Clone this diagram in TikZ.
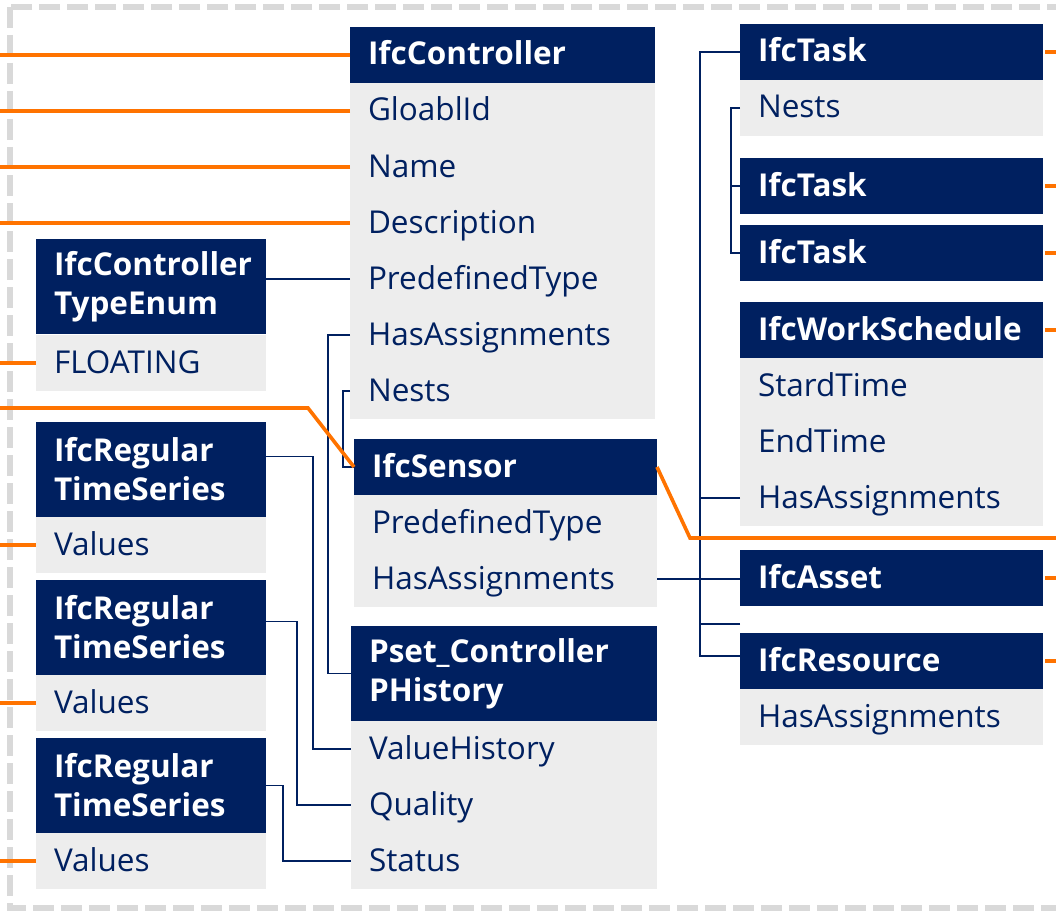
\documentclass[tikz,border=0pt]{standalone}
\usepackage{fontspec}
\setmainfont{Open Sans}
\usetikzlibrary{positioning}
\definecolor{ifcnavy}{RGB}{0,32,96}
\definecolor{ifcgrey}{RGB}{237,237,237}
\definecolor{ifcorange}{RGB}{255,115,0}
\definecolor{ifcdash}{RGB}{217,217,217}
\newcommand\ifcfont{\fontsize{31.5}{39}\selectfont}

\begin{document}
\begin{tikzpicture}[x=1pt,y=-1pt,
  box/.style={anchor=north west, inner xsep=18pt, inner ysep=0pt,
    outer sep=0pt, align=left, text width=#1, font=\ifcfont},
  cell/.style={box=#1, minimum height=56pt, text height=23pt, text depth=3pt},
  head/.style={cell=#1, fill=ifcnavy, text=white, font=\ifcfont\bfseries},
  twohead/.style={box=#1, minimum height=95pt, fill=ifcnavy, text=white,
    font=\ifcfont\bfseries},
  attr/.style={cell=#1, fill=ifcgrey, text=ifcnavy},
  link/.style={draw=ifcnavy, line width=1.6pt},
  feed/.style={draw=ifcorange, line width=3.6pt}]

  \useasboundingbox (0,0) rectangle (1056,912);
  \coordinate (west) at (0,0);
  \coordinate (east) at (1056,0);

  % dashed frame
  \draw[ifcdash, line width=6pt, dash pattern=on 21pt off 7pt] (10,7) rectangle (1080,908);

  % controller and its property set
  \node[head=269pt] (ctrl) at (350,27) {IfcController};
  \foreach \txt [count=\i] in {GloablId,Name,Description,PredefinedType,HasAssignments,Nests}
    \node[attr=269pt] (ctrl-\i) at (350,{27+56*\i}) {\txt};

  \node[head=267pt] (sensor) at (354,439) {IfcSensor};
  \foreach \txt [count=\i] in {PredefinedType,HasAssignments}
    \node[attr=267pt] (sensor-\i) at (354,{439+56*\i}) {\txt};

  \node[twohead=270pt] (pset) at (351,626) {Pset\_Controller\\PHistory};
  \foreach \txt [count=\i] in {ValueHistory,Quality,Status}
    \node[attr=270pt] (pset-\i) at (351,{665+56*\i}) {\txt};

  % left column
  \node[twohead=194pt] (enum) at (36,239) {IfcController\\TypeEnum};
  \node[attr=194pt] (enum-1) at (36,335) {FLOATING};
  \foreach \k/\y in {1/422,2/580,3/738}
    {
      \node[twohead=194pt] (rts\k) at (36,\y) {IfcRegular\\TimeSeries};
      \node[attr=194pt] (rts\k-1) at (36,{\y+95}) {Values};
    }

  % right column
  \node[head=267pt] (task1) at (740,24) {IfcTask};
  \node[attr=267pt] (task1-1) at (740,80) {Nests};
  \node[head=267pt] (task2) at (740,158) {IfcTask};
  \node[head=267pt] (task3) at (740,225) {IfcTask};
  \node[head=267pt] (ws) at (740,302) {IfcWorkSchedule};
  \foreach \txt [count=\i] in {StardTime,EndTime,HasAssignments}
    \node[attr=267pt] (ws-\i) at (740,{302+56*\i}) {\txt};
  \node[head=267pt] (asset) at (740,550) {IfcAsset};
  \node[head=267pt] (res) at (740,633) {IfcResource};
  \node[attr=267pt] (res-1) at (740,689) {HasAssignments};

  % relations
  \draw[link] (ctrl-4.west) -- (ctrl-4.west -| enum.east);
  \draw[link] (ctrl-5.west) -- ++(-22,0) |- (pset.west);
  \draw[link] (ctrl-6.west) -- ++(-7,0) |- (sensor.west);
  \draw[link] ([yshift=13pt]rts1.east) -- ++(47,0) |- (pset-1.west);
  \draw[link] ([yshift=6pt]rts2.east) -- ++(31,0) |- (pset-2.west);
  \draw[link] (rts3.east) -- ++(17,0) |- (pset-3.west);

  \draw[link] (task1.west) -- ++(-40,0) coordinate (trunk) |- ([yshift=5pt]res.west);
  \draw[link] (ws-3.west) -- (ws-3.west -| trunk);
  \draw[link] (sensor-2.east) -- (sensor-2.east -| asset.west);
  \draw[link] ([yshift=9pt]res.north west) -- ([yshift=9pt]res.north west -| trunk);
  \draw[link] (task1-1.west) -- ++(-9,0) |- (task3.west);
  \draw[link] (task2.west) -- ++(-9,0);

  % outside links
  \foreach \n in {ctrl,ctrl-1,ctrl-2,ctrl-3,enum-1,rts1-1,rts2-1,rts3-1}
    \draw[feed] (\n.west) -- (\n.west -| west);
  \foreach \n in {task1,task2,task3,ws,asset,res}
    \draw[feed] ([xshift=2pt]\n.east) -- (\n.east -| east);
  \coordinate (bendL) at (308,408);
  \coordinate (bendR) at (690,538);
  \draw[feed] (west |- bendL) -- (bendL) -- (sensor.west);
  \draw[feed] (sensor.east) -- (bendR) -- (bendR -| east);
\end{tikzpicture}
\end{document}
